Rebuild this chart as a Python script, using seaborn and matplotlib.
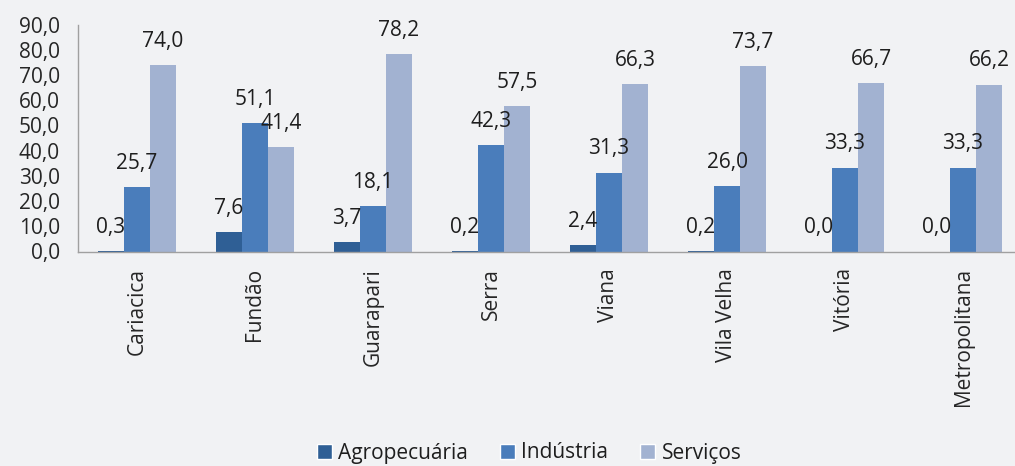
import pandas as pd
import numpy as np
import matplotlib
matplotlib.use('Agg')
import matplotlib.pyplot as plt
from matplotlib.patches import Patch
import seaborn as sns

# data
municipios = ['Cariacica', 'Fundão', 'Guarapari', 'Serra', 'Viana',
              'Vila Velha', 'Vitória', 'Metropolitana']
setores = ['Agropecuária', 'Indústria', 'Serviços']
agropecuaria = [0.3, 7.6, 3.7, 0.2, 2.4, 0.2, 0.0, 0.0]
industria = [25.7, 51.1, 18.1, 42.3, 31.3, 26.0, 33.3, 33.3]
servicos = [74.0, 41.4, 78.2, 57.5, 66.3, 73.7, 66.7, 66.2]
yticks = np.arange(0, 91, 10)

colors = ['#2f5f95', '#4a7dbb', '#a2b2d1']
bg = '#f1f2f4'

df = pd.DataFrame({
    'municipio': municipios * 3,
    'setor': np.repeat(setores, len(municipios)),
    'valor': agropecuaria + industria + servicos,
})

sns.set_style('white')
plt.rcParams['font.family'] = ['Open Sans', 'DejaVu Sans']
plt.rcParams['text.color'] = '#1e1e1e'

fig = plt.figure(figsize=(10.15, 4.66), dpi=100, facecolor=bg)
ax = fig.add_axes([78 / 1015, 214.5 / 466, 944 / 1015, 227 / 466])
ax.set_facecolor(bg)

sns.barplot(data=df, x='municipio', y='valor', hue='setor', order=municipios,
            hue_order=setores, palette=colors, width=0.66, gap=0,
            linewidth=0, saturation=1, ax=ax, legend=False)

# value labels above each bar
for container, vals in zip(ax.containers, [agropecuaria, industria, servicos]):
    for bar, v in zip(container, vals):
        ax.annotate(f'{v:.1f}'.replace('.', ','),
                    (bar.get_x() + bar.get_width() / 2, bar.get_height()),
                    xytext=(0, 17), textcoords='offset points',
                    ha='center', va='center', fontsize=15)

ax.set_ylim(0, 90)
ax.set_xlim(-0.5, len(municipios) - 0.5)
ax.set_yticks(yticks)
ax.set_yticklabels([f'{t:.1f}'.replace('.', ',') for t in yticks], fontsize=15)
ax.set_xticks(range(len(municipios)))
ax.set_xticklabels(municipios, rotation=90, fontsize=15, va='top')
ax.set_xticks(np.arange(-0.5, len(municipios), 1), minor=True)
ax.tick_params(axis='x', which='major', length=0, pad=12)
ax.tick_params(axis='x', which='minor', length=7, width=1, color='#a0a0a0', direction='out')
ax.tick_params(axis='y', length=9, width=1, color='#a0a0a0', direction='out', pad=4)
ax.set_xlabel('')
ax.set_ylabel('')

for s in ['top', 'right']:
    ax.spines[s].set_visible(False)
for s in ['left', 'bottom']:
    ax.spines[s].set_color('#a0a0a0')
    ax.spines[s].set_linewidth(1)

handles = [Patch(facecolor=c, label=l) for c, l in zip(colors, setores)]
fig.legend(handles=handles, loc='center', bbox_to_anchor=(529 / 1015, 1 - 453 / 466),
           ncol=3, frameon=False, fontsize=15, handlelength=0.75, handleheight=0.75,
           handletextpad=0.3, columnspacing=1.5)

fig.savefig('out.png', dpi=100, facecolor=bg)
